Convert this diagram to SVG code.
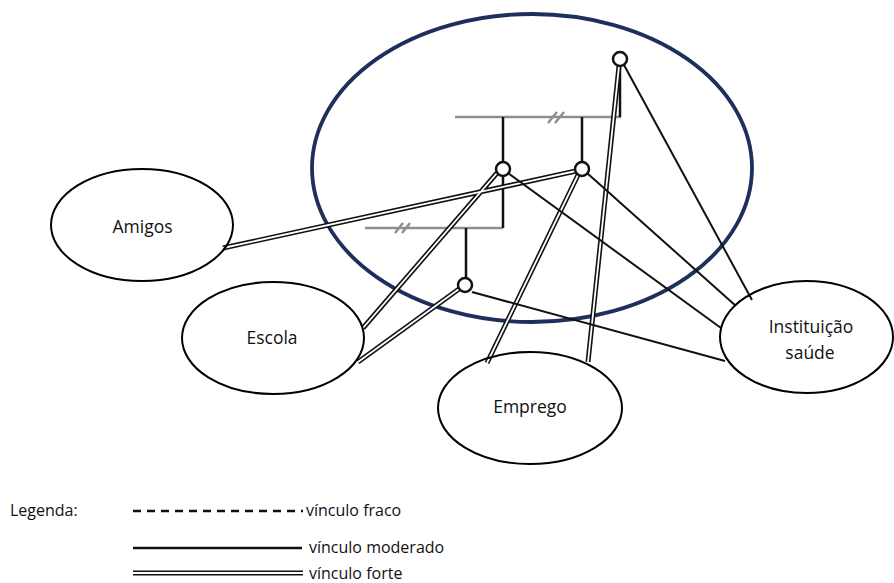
<svg xmlns="http://www.w3.org/2000/svg" width="894" height="583" viewBox="0 0 894 583">
<style>
.node{fill:none;stroke:#000;stroke-width:2}
.lbl{font-family:"Open Sans","Liberation Sans",sans-serif;font-size:17.5px;fill:#111;text-anchor:middle}
.leg{font-family:"Open Sans","Liberation Sans",sans-serif;font-size:16px;fill:#111}
.gray{stroke:#8e8e8e;stroke-width:2.5;fill:none}
.v{stroke:#111;stroke-width:2.5;fill:none}
.mod{stroke:#111;stroke-width:2;fill:none}
.dblo{stroke:#111;stroke-width:5;fill:none}
.dbli{stroke:#fff;stroke-width:1.8;fill:none}
.pc{fill:#fff;stroke:#111;stroke-width:2.5}
</style>
<rect width="894" height="583" fill="#fff"/>
<g id="familia">
<ellipse cx="532" cy="168" rx="220" ry="154" fill="none" stroke="#1f2f5c" stroke-width="3.8"/>
</g>
<g id="genograma">
<path class="gray" d="M455 117H621"/>
<path class="gray" d="M548 123L557 112M555 123L564 112"/>
<path class="gray" d="M365 228H503"/>
<path class="gray" d="M395 233L403 223M402 233L410 223"/>
<path class="v" d="M620 66V117M503 117V162M582 117V162M503 176V228M466 228V278"/>
</g>
<g id="connectors">
<path class="dblo" d="M223 248L576 171M363 328L497 173M358 362L459 289M487 363L578 175M588 362L619 66"/>
<path class="dbli" d="M223 248L576 171M363 328L497 173M358 362L459 289M487 363L578 175M588 362L619 66"/>
<path class="mod" d="M624 65L752 300M587 173L736 306M508 173L721 328M472 292L725 361"/>
</g>
<g id="pessoas">
<circle id="p1" class="pc" cx="620" cy="59" r="7"/>
<circle id="p2" class="pc" cx="503" cy="169" r="7"/>
<circle id="p3" class="pc" cx="582" cy="169" r="7"/>
<circle id="p4" class="pc" cx="465" cy="285" r="7"/>
</g>
<g id="amigos">
<ellipse class="node" cx="142" cy="225" rx="91" ry="56"/>
<text class="lbl" x="142.5" y="233">Amigos</text>
</g>
<g id="escola">
<ellipse class="node" cx="273" cy="338" rx="91" ry="56"/>
<text class="lbl" x="272" y="344">Escola</text>
</g>
<g id="emprego">
<ellipse class="node" cx="530" cy="408" rx="92" ry="56"/>
<text class="lbl" x="530" y="413">Emprego</text>
</g>
<g id="instituicao">
<ellipse class="node" cx="806.5" cy="337" rx="86.5" ry="56"/>
<text class="lbl" x="811" y="333">Instituição</text>
<text class="lbl" x="810" y="359">saúde</text>
</g>
<g id="legenda">
<text class="leg" x="10" y="516">Legenda:</text>
<path d="M133 511H303" stroke="#111" stroke-width="2.5" stroke-dasharray="8,6"/>
<text class="leg" x="306" y="516">vínculo fraco</text>
<path d="M133 548H302" stroke="#111" stroke-width="2.5"/>
<text class="leg" x="309" y="553">vínculo moderado</text>
<path class="dblo" d="M133 573H303"/>
<path class="dbli" d="M133 573H303"/>
<text class="leg" x="309" y="579">vínculo forte</text>
</g>
</svg>
